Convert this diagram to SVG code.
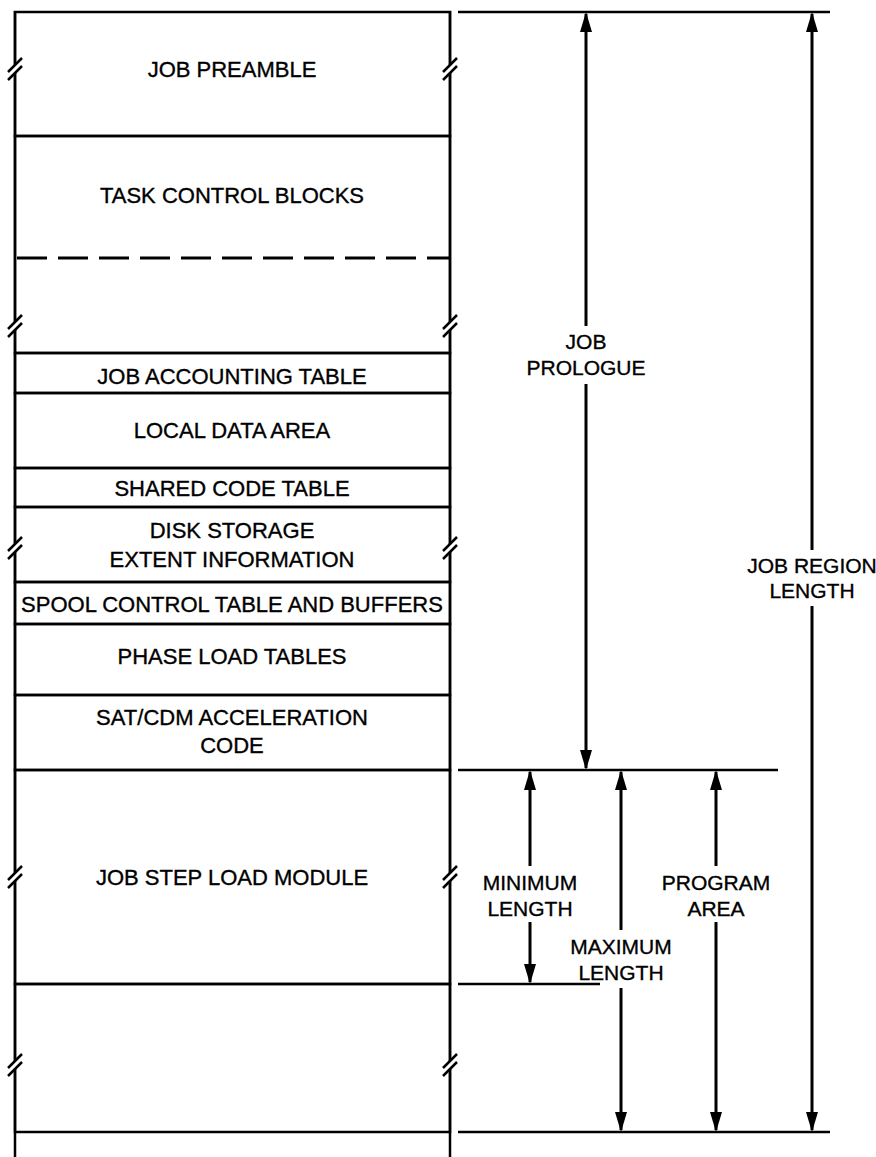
<svg xmlns="http://www.w3.org/2000/svg" width="876" height="1157" viewBox="0 0 876 1157">
<style>
  .bg{fill:#fff}
  .blk{fill:none;stroke:#000;stroke-width:2.5}
  .sep{stroke:#000;stroke-width:2.5;fill:none}
  .dash{stroke:#000;stroke-width:3;stroke-dasharray:30 11;fill:none}
  .lbl{font-family:"Liberation Sans",Arial,Helvetica,sans-serif;font-size:22px;fill:#000;stroke:#000;stroke-width:0.35;text-anchor:middle}
  .dlbl{font-family:"Liberation Sans",Arial,Helvetica,sans-serif;font-size:21px;fill:#000;stroke:#000;stroke-width:0.35;text-anchor:middle}
  .ext{stroke:#000;stroke-width:2.5;fill:none}
  .dim{stroke:#000;stroke-width:3;fill:none}
  .up{marker-start:url(#ah)}
  .dn{marker-end:url(#ah)}
</style>
<defs>
  <marker id="ah" viewBox="0 0 20 12" refX="18" refY="6" markerWidth="20" markerHeight="12" markerUnits="userSpaceOnUse" orient="auto-start-reverse">
    <path d="M0,0 L20,6 L0,12 z" fill="#000"/>
  </marker>
  <g id="brk">
    <rect x="-3" y="-5" width="6" height="8" fill="#fff"/>
    <line x1="-7" y1="2" x2="7" y2="-12" stroke="#000" stroke-width="2.5"/>
    <line x1="-7" y1="10" x2="7" y2="-4" stroke="#000" stroke-width="2.5"/>
  </g>
</defs>
<rect class="bg" x="0" y="0" width="876" height="1157"/>

<g id="column">
  <line class="sep" x1="15" y1="11" x2="15" y2="1157"/>
  <line class="sep" x1="450" y1="11" x2="450" y2="1157"/>
</g>

<g id="job-preamble">
  <rect class="blk" x="15" y="12" width="435" height="124"/>
  <text class="lbl" x="232" y="77">JOB PREAMBLE</text>
</g>
<g id="task-control-blocks">
  <rect class="blk" x="15" y="136" width="435" height="217"/>
  <line class="dash" x1="17" y1="258" x2="450" y2="258"/>
  <text class="lbl" x="232" y="203">TASK CONTROL BLOCKS</text>
</g>
<g id="job-accounting-table">
  <rect class="blk" x="15" y="353" width="435" height="40"/>
  <text class="lbl" x="232" y="384">JOB ACCOUNTING TABLE</text>
</g>
<g id="local-data-area">
  <rect class="blk" x="15" y="393" width="435" height="75"/>
  <text class="lbl" x="232" y="438">LOCAL DATA AREA</text>
</g>
<g id="shared-code-table">
  <rect class="blk" x="15" y="468" width="435" height="39"/>
  <text class="lbl" x="232" y="496">SHARED CODE TABLE</text>
</g>
<g id="disk-storage-extent">
  <rect class="blk" x="15" y="507" width="435" height="75"/>
  <text class="lbl" x="232" y="538">DISK STORAGE</text>
  <text class="lbl" x="232" y="567">EXTENT INFORMATION</text>
</g>
<g id="spool-control">
  <rect class="blk" x="15" y="582" width="435" height="42"/>
  <text class="lbl" x="232" y="612">SPOOL CONTROL TABLE AND BUFFERS</text>
</g>
<g id="phase-load-tables">
  <rect class="blk" x="15" y="624" width="435" height="71"/>
  <text class="lbl" x="232" y="664">PHASE LOAD TABLES</text>
</g>
<g id="sat-cdm">
  <rect class="blk" x="15" y="695" width="435" height="75"/>
  <text class="lbl" x="232" y="725">SAT/CDM ACCELERATION</text>
  <text class="lbl" x="232" y="753">CODE</text>
</g>
<g id="job-step-load-module">
  <rect class="blk" x="15" y="770" width="435" height="214"/>
  <text class="lbl" x="232" y="885">JOB STEP LOAD MODULE</text>
</g>
<g id="free-area">
  <rect class="blk" x="15" y="984" width="435" height="148"/>
</g>

<g id="breaks">
  <use href="#brk" x="15" y="70"/>
  <use href="#brk" x="450" y="70"/>
  <use href="#brk" x="15" y="327"/>
  <use href="#brk" x="450" y="327"/>
  <use href="#brk" x="15" y="549"/>
  <use href="#brk" x="450" y="549"/>
  <use href="#brk" x="15" y="878"/>
  <use href="#brk" x="450" y="878"/>
  <use href="#brk" x="15" y="1066"/>
  <use href="#brk" x="450" y="1066"/>
</g>

<g id="connectors">
  <line class="ext" x1="458" y1="12" x2="830" y2="12"/>
  <line class="ext" x1="458" y1="770" x2="778" y2="770"/>
  <line class="ext" x1="458" y1="984" x2="600" y2="984"/>
  <line class="ext" x1="458" y1="1132" x2="830" y2="1132"/>

  <line class="dim up" x1="586" y1="14" x2="586" y2="326"/>
  <line class="dim dn" x1="586" y1="384" x2="586" y2="768"/>

  <line class="dim up" x1="812" y1="14" x2="812" y2="550"/>
  <line class="dim dn" x1="812" y1="606" x2="812" y2="1130"/>

  <line class="dim up" x1="530" y1="772" x2="530" y2="866"/>
  <line class="dim dn" x1="530" y1="922" x2="530" y2="982"/>

  <line class="dim up" x1="621" y1="772" x2="621" y2="930"/>
  <line class="dim dn" x1="621" y1="988" x2="621" y2="1130"/>

  <line class="dim up" x1="716" y1="772" x2="716" y2="866"/>
  <line class="dim dn" x1="716" y1="922" x2="716" y2="1130"/>
</g>

<g id="dimension-labels">
  <text class="dlbl" x="586" y="349">JOB</text>
  <text class="dlbl" x="586" y="375">PROLOGUE</text>
  <text class="dlbl" x="812" y="573">JOB REGION</text>
  <text class="dlbl" x="812" y="598">LENGTH</text>
  <text class="dlbl" x="530" y="890">MINIMUM</text>
  <text class="dlbl" x="530" y="916">LENGTH</text>
  <text class="dlbl" x="621" y="954">MAXIMUM</text>
  <text class="dlbl" x="621" y="980">LENGTH</text>
  <text class="dlbl" x="716" y="890">PROGRAM</text>
  <text class="dlbl" x="716" y="916">AREA</text>
</g>
</svg>
